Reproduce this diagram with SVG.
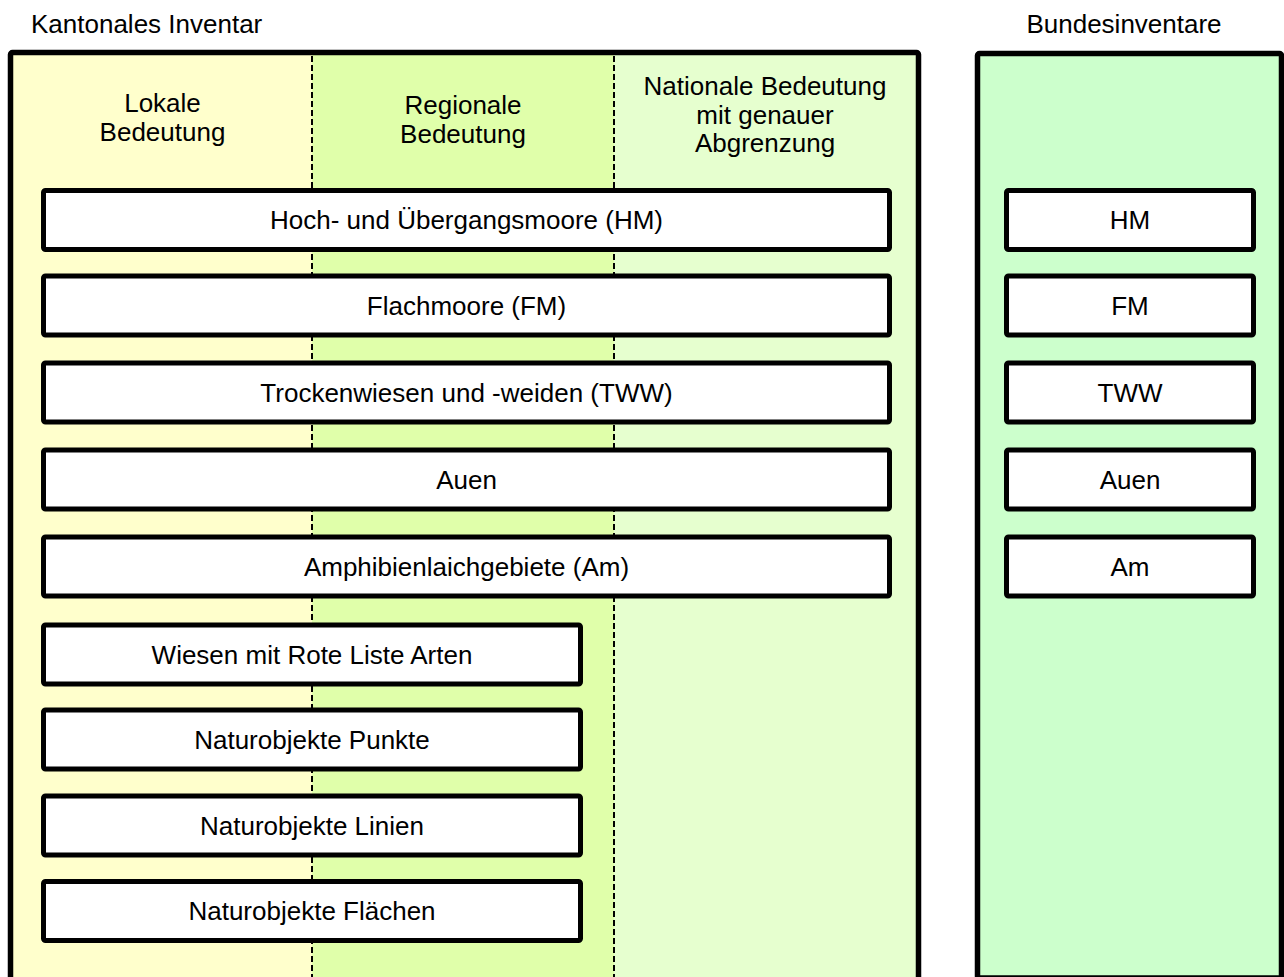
<svg xmlns="http://www.w3.org/2000/svg" width="1284" height="977" viewBox="0 0 1284 977">
<style>
text{font-family:"Liberation Sans",Arial,sans-serif;font-size:26px;fill:#000}
.c{text-anchor:middle}
.frame{stroke:#000;stroke-width:5.5}
.box{fill:#fff;stroke:#000;stroke-width:5}
.dash{stroke:#000;stroke-width:2;stroke-dasharray:6 3;fill:none}
</style>
<rect width="1284" height="977" fill="#fff"/>
<g id="kantonal">
<text x="31" y="33">Kantonales Inventar</text>
<rect x="10.5" y="52.5" width="908" height="940" fill="#FFFFCC" rx="2"/>
<rect x="312" y="55" width="302" height="930" fill="#E0FFAA"/>
<rect x="614" y="55" width="302" height="930" fill="#E6FFCF"/>
<rect class="frame" x="10.5" y="52.5" width="908" height="940" fill="none" rx="2"/>
<text class="c" x="162.5" y="112">Lokale</text>
<text class="c" x="162.5" y="141">Bedeutung</text>
<text class="c" x="463" y="114">Regionale</text>
<text class="c" x="463" y="143">Bedeutung</text>
<text class="c" x="765" y="95">Nationale Bedeutung</text>
<text class="c" x="765" y="123.5">mit genauer</text>
<text class="c" x="765" y="152">Abgrenzung</text>
</g>
<g id="connectors">
<line class="dash" x1="312" y1="56" x2="312" y2="977"/>
<line class="dash" x1="614" y1="56" x2="614" y2="977"/>
</g>
<g id="bundes">
<text class="c" x="1124" y="33">Bundesinventare</text>
<rect class="frame" x="977.5" y="53.5" width="304" height="924.5" fill="#CCFFCC" rx="2"/>
</g>
<g id="k-hm"><rect class="box" x="43.5" y="190.5" width="846" height="59" rx="2"/><text class="c" x="466.5" y="229">Hoch- und Übergangsmoore (HM)</text></g>
<g id="k-fm"><rect class="box" x="43.5" y="276" width="846" height="59" rx="2"/><text class="c" x="466.5" y="314.5">Flachmoore (FM)</text></g>
<g id="k-tww"><rect class="box" x="43.5" y="363" width="846" height="59" rx="2"/><text class="c" x="466.5" y="401.5">Trockenwiesen und -weiden (TWW)</text></g>
<g id="k-auen"><rect class="box" x="43.5" y="450" width="846" height="59" rx="2"/><text class="c" x="466.5" y="488.5">Auen</text></g>
<g id="k-am"><rect class="box" x="43.5" y="537" width="846" height="59" rx="2"/><text class="c" x="466.5" y="575.5">Amphibienlaichgebiete (Am)</text></g>
<g id="k-wiesen"><rect class="box" x="43.5" y="625" width="537" height="59" rx="2"/><text class="c" x="312" y="663.5">Wiesen mit Rote Liste Arten</text></g>
<g id="k-punkte"><rect class="box" x="43.5" y="710" width="537" height="59" rx="2"/><text class="c" x="312" y="748.5">Naturobjekte Punkte</text></g>
<g id="k-linien"><rect class="box" x="43.5" y="796" width="537" height="59" rx="2"/><text class="c" x="312" y="834.5">Naturobjekte Linien</text></g>
<g id="k-flaechen"><rect class="box" x="43.5" y="881.5" width="537" height="59" rx="2"/><text class="c" x="312" y="920">Naturobjekte Flächen</text></g>
<g id="b-hm"><rect class="box" x="1006.5" y="190.5" width="247" height="59" rx="2"/><text class="c" x="1130" y="229">HM</text></g>
<g id="b-fm"><rect class="box" x="1006.5" y="276" width="247" height="59" rx="2"/><text class="c" x="1130" y="314.5">FM</text></g>
<g id="b-tww"><rect class="box" x="1006.5" y="363" width="247" height="59" rx="2"/><text class="c" x="1130" y="401.5">TWW</text></g>
<g id="b-auen"><rect class="box" x="1006.5" y="450" width="247" height="59" rx="2"/><text class="c" x="1130" y="488.5">Auen</text></g>
<g id="b-am"><rect class="box" x="1006.5" y="537" width="247" height="59" rx="2"/><text class="c" x="1130" y="575.5">Am</text></g>
</svg>
